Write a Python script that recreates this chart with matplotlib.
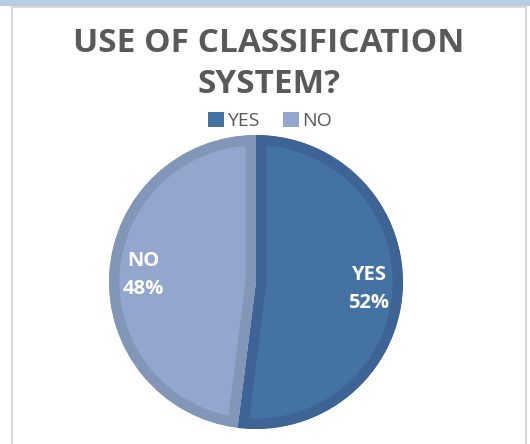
import matplotlib.pyplot as plt
from matplotlib.patches import Rectangle, Patch

categories = ["YES", "NO"]
values = [52, 48]
fill_colors = ["#4472A3", "#93A6CE"]
edge_colors = ["#3D6494", "#8296B8"]

plt.rcParams['font.family'] = ['Open Sans', 'DejaVu Sans']

W, H = 530, 444
fig = plt.figure(figsize=(W / 100, H / 100), dpi=100)

# light blue band on top and the chart frame
fig.patches.append(Rectangle((0, 1 - 6 / H), 1, 6 / H, transform=fig.transFigure,
                             facecolor="#B8CCE4", edgecolor="none", zorder=0))
fig.patches.append(Rectangle((12 / W, -0.01), (526 - 12) / W, 1.01 - 7 / H,
                             transform=fig.transFigure, facecolor="none",
                             edgecolor="#D9D9D9", linewidth=1.5, zorder=0))

cx, cy, r = 256, 282, 147
ax = fig.add_axes([(cx - r) / W, (H - cy - r) / H, 2 * r / W, 2 * r / H])
ax.set_zorder(2)
wedges, texts, autotexts = ax.pie(
    values, colors=fill_colors, startangle=90, counterclock=False,
    autopct=lambda p: "{:.0f}%".format(p), pctdistance=0.77,
    wedgeprops=dict(linewidth=15, joinstyle="miter"),
    textprops=dict(color="white", fontsize=14.5, fontweight="bold"))
ax.set_xlim(-1, 1)
ax.set_ylim(-1, 1)
ax.set_aspect("equal")
ax.axis("off")
# keep each wedge's border inside the wedge itself
for w, ec in zip(wedges, edge_colors):
    w.set_edgecolor(ec)
    w.set_clip_path(w)
    w.set_clip_on(True)
for t, c in zip(autotexts, categories):
    t.set_text("{}\n{}".format(c, t.get_text()))
    t.set_linespacing(1.55)

fig.text(269 / W, 1 - 64 / H, "USE OF CLASSIFICATION\nSYSTEM?", ha="center", va="center",
         fontsize=24, fontweight="bold", color="#595959", linespacing=1.3)

handles = [Patch(facecolor=c, edgecolor="none") for c in fill_colors]
fig.legend(handles, categories, loc="center", bbox_to_anchor=(270 / W, 1 - 121 / H),
           ncol=2, frameon=False, fontsize=14, handlelength=0.85, handleheight=0.85,
           handletextpad=0.15, columnspacing=1.2, labelcolor="#595959")

fig.savefig("out.png", dpi=100)
